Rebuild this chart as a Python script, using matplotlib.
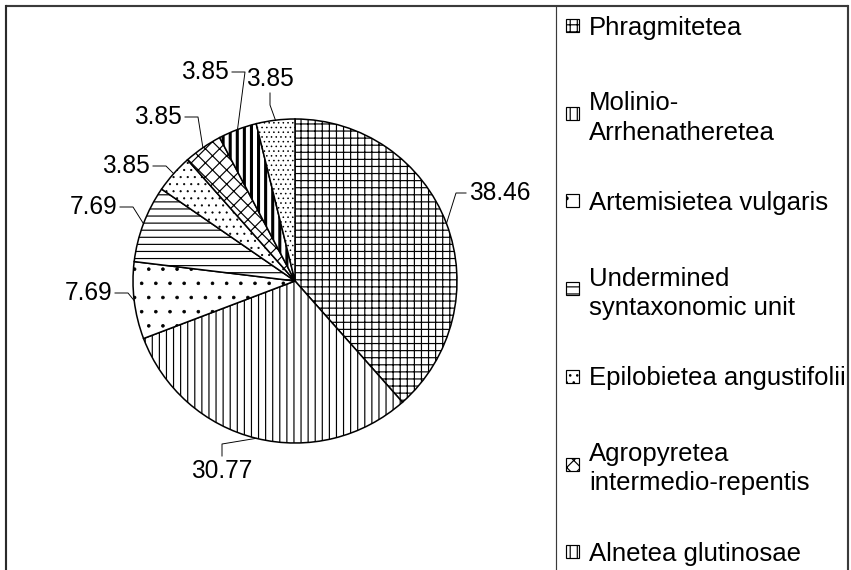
import numpy as np
import matplotlib
matplotlib.use("Agg")
import matplotlib.pyplot as plt
from matplotlib.patches import Rectangle

plt.rcParams["font.family"] = ["Liberation Sans", "DejaVu Sans"]
plt.rcParams["hatch.linewidth"] = 1.0

# data
categories = [
    "Phragmitetea",
    "Molinio-\nArrhenatheretea",
    "Artemisietea vulgaris",
    "Undermined\nsyntaxonomic unit",
    "Epilobietea angustifolii",
    "Agropyretea\nintermedio-repentis",
    "Alnetea glutinosae",
    "",
]
values = [38.46, 30.77, 7.69, 7.69, 3.85, 3.85, 3.85, 3.85]
value_labels = ["38.46", "30.77", "7.69", "7.69", "3.85", "3.85", "3.85", "3.85"]

# styling
hatches = ["++", "||", ".", "--", "..", "xx", "||", "..."]
hatch_lw = [1.0, 1.0, 0.6, 1.0, 0.6, 1.0, 2.6, 0.6]

W, H, DPI = 851, 570, 85
fig = plt.figure(figsize=(W / DPI, H / DPI), dpi=DPI)
ax = fig.add_axes([0, 0, 1, 1])


def fy(y):
    # pixel row (from top) -> axes y
    return H - y


def pt(px):
    return px * 72 / DPI


# pie: centre (295, 281) px, radius 162 px
cx, cy, R = 295, 281, 162
wedges, _ = ax.pie(values, startangle=90, counterclock=False, radius=R,
                   center=(cx, fy(cy)), frame=True,
                   wedgeprops=dict(facecolor="white", edgecolor="black", linewidth=1.3))
ax.set_aspect("auto")
ax.set_xlim(0, W)
ax.set_ylim(0, H)
ax.axis("off")
for w, h, lw in zip(wedges, hatches, hatch_lw):
    w.set_hatch(h)
    if hasattr(w, "set_hatch_linewidth"):
        w.set_hatch_linewidth(lw)

# label layout: (x, y) anchor in px, side ('l' text left of anchor, 'r' right, 'u' above, 'd' below)
label_anchor = [(469, 193), (222, 459), (112, 293), (117, 207),
                (150, 166), (182, 117), (229, 72), (270, 91)]
label_side = ["r", "d", "l", "l", "l", "l", "l", "u"]
label_fs = pt(24.5)

for w, txt, (ax_x, ax_y), side in zip(wedges, value_labels, label_anchor, label_side):
    mid = np.radians((w.theta1 + w.theta2) / 2)
    ex, ey = cx + R * np.cos(mid), fy(cy) + R * np.sin(mid)
    y = fy(ax_y)
    if side == "r":
        ax.text(ax_x, y, txt, ha="left", va="center", fontsize=label_fs)
        xs = [ax_x - 3, ax_x - 13, ex]
        ys = [y, y, ey]
    elif side == "l":
        ax.text(ax_x, y, txt, ha="right", va="center", fontsize=label_fs)
        xs = [ax_x + 3, ax_x + 16, ex]
        ys = [y, y, ey]
    elif side == "d":
        ax.text(ax_x, y, txt, ha="center", va="top", fontsize=label_fs)
        xs = [ax_x, ax_x, ex]
        ys = [y + 3, y + 15, ey]
    else:
        ax.text(ax_x, y, txt, ha="center", va="bottom", fontsize=label_fs)
        xs = [ax_x, ax_x, ex]
        ys = [y - 2, y - 14, ey]
    ax.plot(xs, ys, color="black", lw=0.8)

# outer frame and legend box
ax.plot([6, 848], [fy(6), fy(6)], color="#3a3a3a", lw=1.8, solid_capstyle="butt")
ax.plot([6, 6], [0, fy(6)], color="#2a2a2a", lw=1.8)
ax.plot([848, 848], [0, fy(6)], color="#3a3a3a", lw=1.8)
ax.plot([556, 556], [0, fy(6)], color="#3a3a3a", lw=1.0)

# legend entries (text clipped at the legend box edge)
lax = fig.add_axes([556 / W, 0, (847 - 556) / W, 1])
lax.set_xlim(556, 847)
lax.set_ylim(0, H)
lax.axis("off")
y0, step = 25, 87.7
for i, name in enumerate(categories[:7]):
    yp = y0 + i * step
    lax.add_patch(Rectangle((566, fy(yp + 7)), 13, 13, facecolor="white",
                            edgecolor="black", lw=1.0, hatch=hatches[i]))
    lax.text(589, fy(yp), name, fontsize=pt(25.8), va="center_baseline", ha="left",
             linespacing=1.28, clip_on=True)

fig.savefig("out.png", dpi=DPI)
